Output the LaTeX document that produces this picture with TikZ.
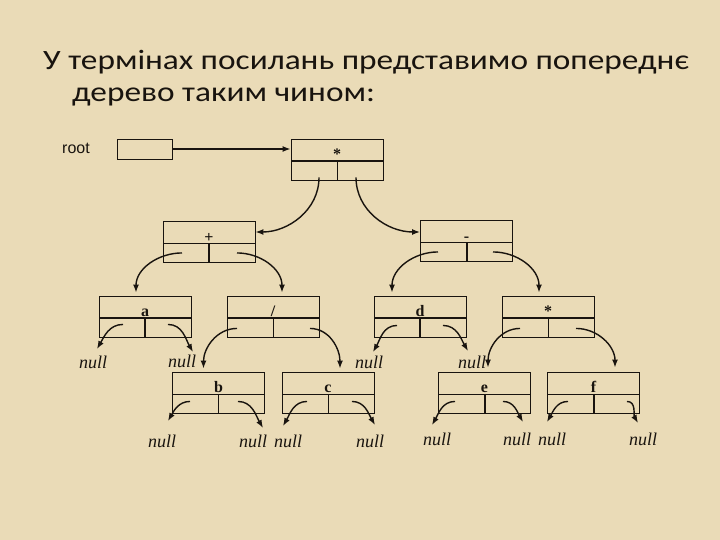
\documentclass[tikz,border=0pt]{standalone}
\usepackage{fontspec}
\setmainfont{Liberation Serif}
\newfontfamily\titlefont{Carlito}
\newfontfamily\rootfont{Liberation Sans}
\usepackage{graphicx}
\usepackage{tikz}
\usetikzlibrary{arrows.meta,positioning,calc}
\usepackage{xcolor}
\definecolor{parchment}{RGB}{234,219,183}
\definecolor{ink}{RGB}{25,20,15}

\begin{document}
\begin{tikzpicture}[
    x=1pt, y=1pt,
    hdiv/.initial=0.9pt, vdiv/.initial=0.9pt,
    box/.style={rectangle, draw=ink, line width=0.9pt, minimum width=92pt, minimum height=41pt, inner sep=0pt,
        text height=10pt, text depth=9pt, text=ink, font=\fontsize{16}{18}\selectfont\bfseries,
        path picture={
            \draw[ink, line width=\pgfkeysvalueof{/tikz/hdiv}] ([yshift=-22pt]path picture bounding box.north west) -- ([yshift=-22pt]path picture bounding box.north east);
            \draw[ink, line width=\pgfkeysvalueof{/tikz/vdiv}] ([yshift=-22pt]path picture bounding box.north) -- (path picture bounding box.south);
        }},
    nil/.style={font=\fontsize{18}{20}\selectfont\itshape, text=ink, inner sep=0pt},
    title/.style={anchor=base west, inner sep=0pt, text=ink, font=\titlefont\fontsize{28}{32}\selectfont},
    ptr/.style={draw=ink, line width=1.4pt, -{Latex[length=8pt,width=6pt]}}
]
    \useasboundingbox (0,0) rectangle (720,540);
    \fill[parchment] (0,0) rectangle (720,540);

    \node[title] (title1) at (43,470) {\scalebox{1.19}[1]{У термінах посилань представимо попереднє}};
    \node[title] (title2) at (72,438) {\scalebox{1.19}[1]{дерево таким чином:}};

    \node[anchor=base west, inner sep=0pt, text=ink, font=\rootfont\fontsize{16}{18}\selectfont] (rootlbl) at (62,386) {root};
    \node[draw=ink, line width=0.9pt, minimum width=55pt, minimum height=20pt, inner sep=0pt] (root) at (144.5,391) {};

    \node[box, hdiv=1.8pt] (times) at (337,380.5) {*};
    \node[box, vdiv=2pt] (plus) at (209,298) {+};
    \node[box, vdiv=2pt] (minus) at (466.5,299) {-};

    \node[box, hdiv=1.8pt, vdiv=2pt] (a) at (145,223.5) {a};
    \node[box, hdiv=1.8pt] (slash) at (273,223.5) {/};
    \node[box, hdiv=1.8pt, vdiv=2pt] (d) at (420,223.5) {d};
    \node[box, hdiv=1.8pt] (times2) at (548,223.5) {*};

    \node[box] (b) at (218.5,147.5) {b};
    \node[box] (c) at (328,147.5) {c};
    \node[box, vdiv=2pt] (e) at (484.5,147.5) {e};
    \node[box, vdiv=2pt] (f) at (593.5,147.5) {f};

    \node[nil] (al) at (93,178) {null};
    \node[nil] (ar) at (182,179) {null};
    \node[nil] (dl) at (369,178) {null};
    \node[nil] (dr) at (472,178) {null};
    \node[nil] (bl) at (162,99) {null};
    \node[nil] (br) at (253,99) {null};
    \node[nil] (cl) at (288,99) {null};
    \node[nil] (cr) at (370,99) {null};
    \node[nil] (el) at (437,101) {null};
    \node[nil] (er) at (517,101) {null};
    \node[nil] (fl) at (552,101) {null};
    \node[nil] (fr) at (643,101) {null};

    \draw[ptr] (root.east) -- (root.east -| times.west);
    \draw[ptr] ([shift={(-18,3)}]times.south) to[out=-90,in=0] ([yshift=10pt]plus.east);
    \draw[ptr] ([shift={(19,3)}]times.south) to[out=-90,in=180] ([yshift=9pt]minus.west);

    \draw[ptr] ([shift={(-27,10)}]plus.south) to[out=180,in=90] ([shift={(-9,3)}]a.north);
    \draw[ptr] ([shift={(28,10)}]plus.south) to[out=0,in=90] ([shift={(9,3)}]slash.north);
    \draw[ptr] ([shift={(-28.5,10)}]minus.south) to[out=180,in=90] ([shift={(-28,3)}]d.north);
    \draw[ptr] ([shift={(26.5,10)}]minus.south) to[out=0,in=90] ([shift={(-9,3)}]times2.north);

    \draw[ptr] ([shift={(-36,9)}]slash.south) to[out=180,in=90] ([shift={(-15,3)}]b.north);
    \draw[ptr] ([shift={(37,9)}]slash.south) to[out=0,in=90] ([shift={(12,3)}]c.north);
    \draw[ptr] ([shift={(-28,9)}]times2.south) to[out=180,in=90] ([shift={(3.5,4)}]e.north);
    \draw[ptr] ([shift={(28,9)}]times2.south) to[out=0,in=90] ([shift={(21.5,4)}]f.north);

    \draw[ptr] ([shift={(-22,13)}]a.south) to[out=180,in=60] ([shift={(4,13)}]al.center);
    \draw[ptr] ([shift={(23,13)}]a.south) to[out=0,in=120] ([shift={(11,9)}]ar.center);
    \draw[ptr] ([shift={(-23,12)}]d.south) to[out=180,in=60] ([shift={(4,10)}]dl.center);
    \draw[ptr] ([shift={(23,12)}]d.south) to[out=0,in=120] ([shift={(-4,11)}]dr.center);

    \draw[ptr] ([shift={(-28.5,12)}]b.south) to[out=180,in=60] ([shift={(6,20)}]bl.center);
    \draw[ptr] ([shift={(19.5,12)}]b.south) to[out=0,in=120] ([shift={(10,13)}]br.center);
    \draw[ptr] ([shift={(-21,12)}]c.south) to[out=180,in=60] ([shift={(-5,15)}]cl.center);
    \draw[ptr] ([shift={(24,12)}]c.south) to[out=0,in=120] ([shift={(5,16)}]cr.center);
    \draw[ptr] ([shift={(-29.5,12)}]e.south) to[out=180,in=60] ([shift={(-5,14)}]el.center);
    \draw[ptr] ([shift={(18.5,12)}]e.south) to[out=0,in=120] ([shift={(6,17)}]er.center);
    \draw[ptr] ([shift={(-25.5,12)}]f.south) to[out=180,in=60] ([shift={(-5,17)}]fl.center);
    \draw[ptr] ([shift={(33.5,12)}]f.south) to[out=0,in=120] ([shift={(-5,16)}]fr.center);
\end{tikzpicture}
\end{document}
